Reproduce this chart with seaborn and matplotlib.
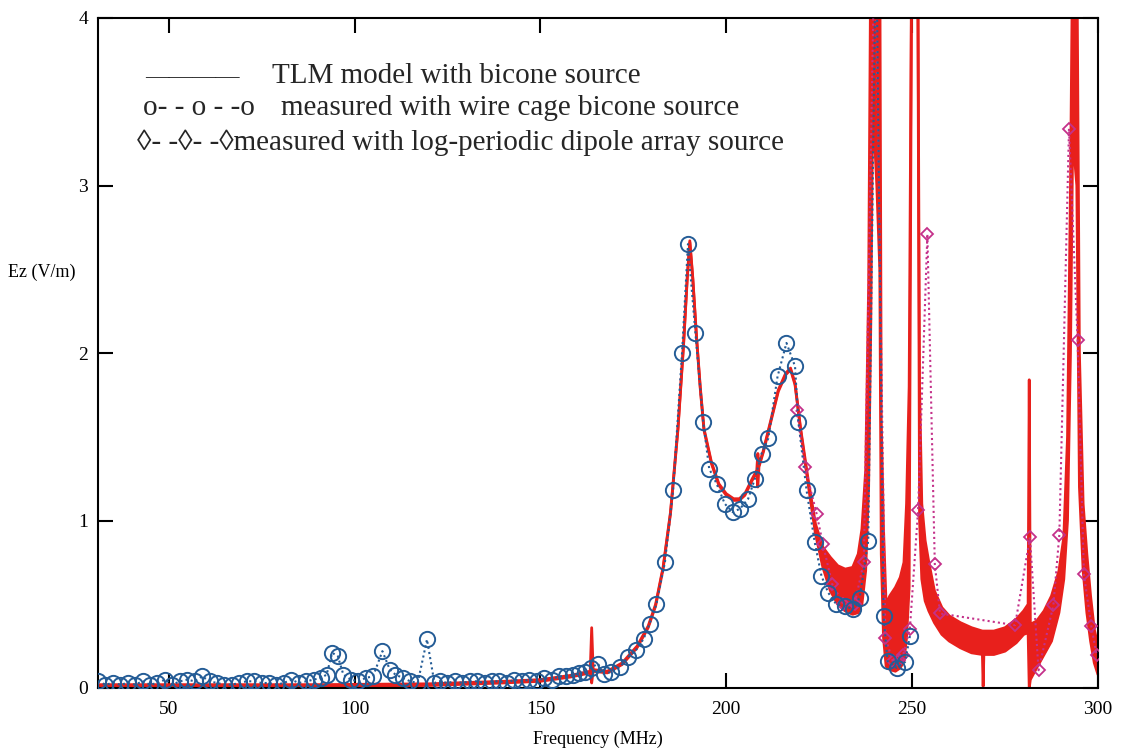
import matplotlib
matplotlib.use("Agg")
import matplotlib.pyplot as plt
import seaborn as sns
import numpy as np

# ---------------- data ----------------
# TLM model (oscillating band: upper / lower envelope)
tlm_freq = [30, 60, 90, 120, 140, 150, 158, 163.4, 163.8, 164.2, 168, 172, 176, 179, 181, 183, 185, 187,
            188.5, 189.5, 190.2, 191, 192, 193, 194, 196, 198, 200, 202, 203.5, 205, 207, 208.2, 208.5,
            208.8, 210, 212, 214, 216, 217.3, 218.5, 220, 222, 224, 226, 228, 230, 232, 234, 235.5,
            236.5, 237.5, 238.3, 238.9, 239.4, 240.5, 241.3, 241.7, 242.3, 243, 244, 245.5, 246.8,
            247.8, 248.5, 249.2, 249.9, 251.5, 252.0, 252.6, 253.5, 254.5, 256, 258, 260, 263, 266,
            268.9, 269.1, 269.3, 272, 275, 278, 280, 281.2, 281.5, 281.8, 283.5, 285.5, 287.5, 289.5,
            290.8, 291.8, 292.6, 293.2, 294.3, 295, 296, 297, 298, 299, 300]
tlm_upper = [0.02, 0.02, 0.02, 0.025, 0.04, 0.05, 0.075, 0.10, 0.36, 0.11, 0.10, 0.15, 0.25, 0.37, 0.50,
             0.72, 1.05, 1.55, 2.05, 2.45, 2.67, 2.45, 2.10, 1.80, 1.55, 1.35, 1.22, 1.16, 1.13, 1.13,
             1.16, 1.25, 1.30, 1.40, 1.33, 1.42, 1.60, 1.78, 1.88, 1.91, 1.82, 1.55, 1.25, 0.98, 0.84,
             0.78, 0.73, 0.71, 0.72, 0.80, 0.95, 1.30, 2.40, 4.50, 4.50, 4.50, 4.50, 1.60, 0.95, 0.50,
             0.55, 0.60, 0.66, 0.75, 1.10, 1.80, 4.50, 4.50, 1.80, 1.10, 0.88, 0.75, 0.58, 0.48, 0.43,
             0.39, 0.36, 0.34, 0.34, 0.34, 0.34, 0.36, 0.41, 0.46, 0.50, 1.84, 0.38, 0.40, 0.46, 0.55,
             0.70, 0.90, 1.50, 3.00, 4.50, 4.50, 2.00, 1.10, 0.80, 0.55, 0.35, 0.25]
tlm_lower = [0.01, 0.01, 0.01, 0.015, 0.03, 0.04, 0.065, 0.09, 0.03, 0.10, 0.09, 0.14, 0.24, 0.36, 0.49,
             0.71, 1.04, 1.54, 2.04, 2.44, 2.66, 2.44, 2.09, 1.79, 1.54, 1.34, 1.21, 1.15, 1.12, 1.12,
             1.15, 1.24, 1.29, 1.20, 1.32, 1.41, 1.59, 1.77, 1.87, 1.90, 1.81, 1.54, 1.22, 0.92, 0.72,
             0.58, 0.50, 0.46, 0.44, 0.45, 0.50, 0.70, 1.20, 2.20, 3.50, 3.00, 2.50, 0.80, 0.30, 0.13,
             0.11, 0.10, 0.12, 0.16, 0.30, 0.60, 4.50, 4.50, 1.00, 0.65, 0.52, 0.46, 0.39, 0.32, 0.28,
             0.24, 0.21, 0.20, 0.01, 0.20, 0.20, 0.22, 0.27, 0.32, 0.33, 0.00, 0.05, 0.12, 0.20, 0.28,
             0.45, 0.65, 1.00, 2.00, 3.30, 3.00, 1.20, 0.70, 0.45, 0.28, 0.15, 0.08]

# measured with wire cage bicone source (circles)
cage_freq = [31, 33, 35, 37, 39, 41, 43, 45, 47, 49, 51, 53, 55, 57, 59, 61, 63, 65, 67, 69, 71, 73, 75,
             77, 79, 81, 83, 85, 87, 89, 91, 92.5, 94, 95.5, 97, 99, 101, 103, 105, 107.5, 109.5, 111,
             113, 115, 117, 119.5, 121.5, 123, 125, 127, 129, 131, 133, 135, 137, 139, 141, 143, 145,
             147, 149, 151, 153, 155, 157, 158.8, 160.5, 162, 163.5, 165.5, 167, 169, 171.4, 173.6,
             175.7, 177.8, 179.4, 181.2, 183.5, 185.7, 188.1, 189.7, 191.7, 193.8, 195.4, 197.4, 199.6,
             201.7, 203.7, 205.9, 207.7, 209.5, 211.3, 213.8, 216.2, 218.5, 219.4, 221.6, 223.8, 225.6,
             227.4, 229.6, 231.9, 234.1, 235.9, 238.2, 240.3, 242.3, 243.4, 245.8, 248.1, 249.4]
cage_ez = [0.04, 0.02, 0.03, 0.02, 0.03, 0.02, 0.04, 0.02, 0.03, 0.05, 0.02, 0.04, 0.05, 0.04, 0.07,
           0.04, 0.03, 0.02, 0.02, 0.03, 0.04, 0.04, 0.03, 0.03, 0.02, 0.03, 0.05, 0.03, 0.04, 0.05,
           0.06, 0.08, 0.21, 0.19, 0.08, 0.05, 0.04, 0.06, 0.07, 0.22, 0.11, 0.08, 0.06, 0.04, 0.03,
           0.29, 0.03, 0.04, 0.03, 0.04, 0.03, 0.04, 0.04, 0.03, 0.04, 0.04, 0.03, 0.05, 0.04, 0.05,
           0.04, 0.06, 0.05, 0.07, 0.07, 0.075, 0.09, 0.095, 0.12, 0.145, 0.085, 0.095, 0.125, 0.185,
           0.225, 0.295, 0.385, 0.50, 0.75, 1.18, 2.00, 2.65, 2.12, 1.59, 1.31, 1.22, 1.10, 1.05, 1.07,
           1.13, 1.25, 1.40, 1.49, 1.86, 2.06, 1.92, 1.59, 1.18, 0.87, 0.67, 0.57, 0.50, 0.49, 0.47,
           0.54, 0.88, 4.60, 0.43, 0.16, 0.12, 0.155, 0.31]

# measured with log-periodic dipole array source (diamonds)
lpda_freq = [218.9, 221.2, 224.3, 226.0, 228.5, 231.5, 234.5, 237.0, 240.0, 242.8, 244.8, 246.5, 247.6,
             249.4, 251.6, 254.1, 256.1, 257.5, 277.7, 281.7, 284.0, 288.0, 289.6, 292.2, 294.5, 296.2,
             298.2, 299.6]
lpda_ez = [1.66, 1.32, 1.04, 0.86, 0.62, 0.50, 0.50, 0.75, 4.60, 0.30, 0.16, 0.17, 0.20, 0.355, 1.06,
           2.71, 0.74, 0.445, 0.375, 0.90, 0.106, 0.495, 0.915, 3.34, 2.08, 0.68, 0.37, 0.20]

x_ticks = [50, 100, 150, 200, 250, 300]
y_ticks = [0, 1, 2, 3, 4]

# ---------------- style ----------------
sns.set_theme(style="ticks")
plt.rcParams["font.family"] = ["Liberation Serif", "DejaVu Serif"]

fig = plt.figure(figsize=(11.29, 7.54), dpi=100)
ax = fig.add_axes([98 / 1129, 1 - 688 / 754, 1000 / 1129, 670 / 754])

red = "#e8201c"
blue = "#245c96"
mag = "#c4318a"

ax.fill_between(tlm_freq, tlm_lower, tlm_upper, color=red, linewidth=0, zorder=2)
sns.lineplot(x=tlm_freq, y=tlm_upper, ax=ax, color=red, linewidth=2.0, estimator=None, zorder=2)
sns.lineplot(x=tlm_freq, y=tlm_lower, ax=ax, color=red, linewidth=2.0, estimator=None, zorder=2)

sns.lineplot(x=lpda_freq, y=lpda_ez, ax=ax, color=mag, linestyle=(0, (1, 1.5)), linewidth=1.5,
             marker="D", markersize=6.5, markerfacecolor="none", markeredgecolor=mag,
             markeredgewidth=1.3, estimator=None, zorder=3)
sns.lineplot(x=cage_freq, y=cage_ez, ax=ax, color=blue, linestyle=(0, (1, 1.5)), linewidth=1.5,
             marker="o", markersize=11, markerfacecolor="none", markeredgecolor=blue,
             markeredgewidth=1.4, estimator=None, zorder=4)

ax.set_xlim(31, 300)
ax.set_ylim(0, 4)
ax.set_xticks(x_ticks)
ax.set_yticks(y_ticks)
ax.set_xticklabels([str(v) for v in x_ticks])
ax.set_yticklabels([str(v) for v in y_ticks])
ax.tick_params(axis="both", direction="in", length=11, width=1.5, color="black",
               top=True, right=True, labelsize=14, labelcolor="black")
ax.tick_params(axis="x", pad=9)
ax.tick_params(axis="y", pad=7)
for s in ax.spines.values():
    s.set_visible(True)
    s.set_linewidth(1.5)
    s.set_color("black")
ax.grid(False)
ax.set_facecolor("white")

ax.set_xlabel("Frequency (MHz)", fontsize=13, color="black", va="center")
ax.xaxis.set_label_coords(0.5, -0.077)
ax.set_ylabel("Ez (V/m)", fontsize=13, rotation=0, color="black", ha="center", va="center")
ax.yaxis.set_label_coords(-0.056, 0.621)

# text legend (as in the original, written inside the plot)
fs = 21
fig.text(145 / 1129, 1 - 83 / 754, "————", fontsize=17, ha="left", va="baseline")
fig.text(272 / 1129, 1 - 83 / 754, "TLM model with bicone source", fontsize=fs, ha="left", va="baseline")
fig.text(143 / 1129, 1 - 115 / 754, "o- - o - -o", fontsize=fs, ha="left", va="baseline")
fig.text(281 / 1129, 1 - 115 / 754, "measured with wire cage bicone source", fontsize=fs, ha="left",
         va="baseline")
fig.text(137 / 1129, 1 - 150 / 754, "◊- -◊- -◊measured with log-periodic dipole array source",
         fontsize=fs, ha="left", va="baseline")

fig.savefig("out.png", dpi=100, facecolor="white")
